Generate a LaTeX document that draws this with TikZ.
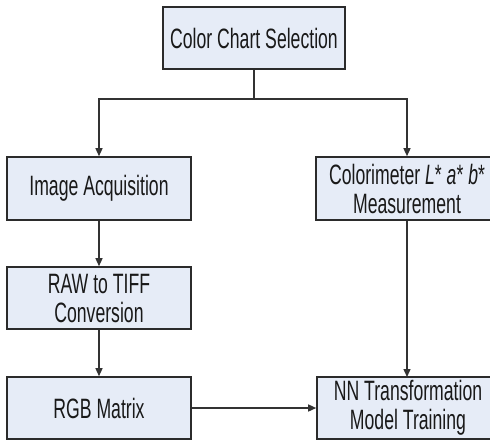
\documentclass[tikz,border=0pt]{standalone}
\usepackage{fontspec}
\setmainfont{Liberation Sans}[FakeStretch=0.63]
\usetikzlibrary{arrows.meta}
\definecolor{boxfill}{HTML}{E6ECF7}
\definecolor{boxline}{HTML}{2B2B2B}
\definecolor{conn}{HTML}{333333}
\tikzset{
  stepbox/.style={draw=boxline, line width=1.6pt, fill=boxfill, inner sep=0pt,
    minimum width=182pt, minimum height=62pt, align=center,
    font=\fontsize{28}{29}\selectfont, text=black!90},
  arr/.style={draw=conn, line width=1.4pt, -{Triangle[length=8pt,width=7pt]}},
  ln/.style={draw=conn, line width=1.4pt}
}
\begin{document}
\begin{tikzpicture}[x=1pt,y=-1pt]
\useasboundingbox (0,0) rectangle (490,440);
\begin{scope}
\clip (0,0) rectangle (490,440);
\node[stepbox] (top) at (254,38) {Color Chart Selection};
\node[stepbox, minimum width=184pt, minimum height=63pt] (acq) at (99,188.5) {Image Acquisition};
\node[stepbox, minimum height=63pt] (col) at (407,188.5) {Colorimeter \textit{L}* \textit{a}* \textit{b}*\\Measurement};
\node[stepbox, minimum width=184pt] (raw) at (99,298) {RAW to TIFF\\Conversion};
\node[stepbox, minimum width=184pt] (rgb) at (99,408) {RGB Matrix};
\node[stepbox] (nn) at (408,408) {NN Transformation\\Model Training};
\coordinate (j) at (254,99);
\draw[ln] (top) -- (j);
\draw[arr] (j) -| (acq);
\draw[arr] (j) -| (col);
\draw[arr] (acq) -- (raw);
\draw[arr] (raw) -- (rgb);
\draw[arr] (col.south -| 407,0) -- (407,377);
\draw[arr] (rgb) -- (nn);
\end{scope}
\end{tikzpicture}
\end{document}
